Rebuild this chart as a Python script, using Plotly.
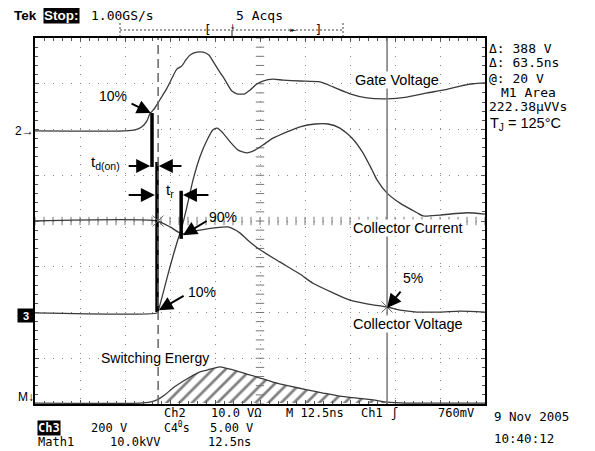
import numpy as np
import plotly.graph_objects as go

# ---------------- data (time in ns, amplitude in screen divisions) ----------------
gate_t = [0, 25, 27.8, 29.7, 31.1, 31.9, 33.3, 34.7, 36.7, 38.1, 39.4, 40.8, 41.9, 43.1, 45.0, 46.7,
          48.3, 49.4, 50.8, 52.8, 54.7, 56.1, 58.3, 59.7, 61.7, 63.3, 66.1, 68.9, 73.6, 79.2, 82.8,
          87.5, 92.2, 97.8, 103.3, 108.9, 113.3, 118.1, 121.7, 125]
gate_v = [1.97, 1.97, 1.99, 2.06, 2.19, 2.34, 2.47, 2.65, 2.91, 3.13, 3.32, 3.39, 3.52, 3.63, 3.69, 3.69,
          3.63, 3.50, 3.32, 3.08, 2.84, 2.78, 2.78, 2.86, 3.00, 3.06, 3.10, 3.08, 3.06, 3.04, 2.93,
          2.78, 2.69, 2.67, 2.71, 2.80, 2.86, 2.95, 3.00, 3.02]

ic_t = [0, 33.9, 34.2, 35.6, 37.5, 39.4, 40.8, 42.2, 43.9, 45.8, 47.8, 49.4, 50.6, 51.9, 54.2, 56.4,
        58.9, 61.1, 63.3, 66.1, 70.0, 73.6, 77.8, 81.4, 84.7, 88.1, 91.1, 93.6, 95.0, 97.8, 101.4,
        106.1, 107.8, 112.5, 120.0, 125]
ic_v = [-2.01, -2.01, -1.97, -1.57, -1.00, -0.48, -0.13, 0.31, 0.90, 1.40, 1.77, 1.99, 2.03, 1.95, 1.73, 1.55,
        1.49, 1.55, 1.66, 1.81, 1.95, 2.06, 2.12, 2.12, 2.03, 1.81, 1.49, 1.12, 0.90, 0.61, 0.39,
        0.18, 0.11, 0.13, 0.18, 0.15]

vce_t = [0, 33.9, 37.5, 40.8, 43.1, 45.8, 50.0, 53.6, 56.9, 59.7, 62.5, 68.1, 73.6, 77.2, 82.8, 87.5,
         92.2, 97.8, 101.4, 106.1, 112.5, 118.1, 125]
vce_v = [0.0, 0.0, -0.13, -0.28, -0.24, -0.20, -0.15, -0.13, -0.26, -0.46, -0.63, -0.90, -1.16, -1.36,
         -1.57, -1.73, -1.81, -1.88, -1.95, -1.99, -1.99, -1.97, -1.99]

esw_t = [0, 29.2, 31.9, 33.9, 36.1, 38.3, 40.8, 43.1, 45.8, 47.8, 50.0, 51.4, 54.2, 56.9, 61.7, 66.1,
         70.8, 75.6, 80.0, 84.7, 89.4, 93.9, 97.8, 103.3, 112.5, 125]
esw_v = [-3.98, -3.98, -3.96, -3.91, -3.80, -3.65, -3.52, -3.41, -3.30, -3.26, -3.21, -3.19, -3.24, -3.30,
         -3.41, -3.52, -3.61, -3.69, -3.76, -3.83, -3.87, -3.91, -3.96, -3.98, -3.98, -3.98]

cursor_a = 34.2   # dashed cursor (ns)
cursor_b = 97.8   # solid cursor (ns)

# measurement bars (ns, lower div, upper div)
bar_t = [32.5, 33.9, 40.6]
bar_lo = [1.18, -1.99, -0.39]
bar_hi = [2.36, 1.29, 0.66]

# cursor cross points
xmark_t = [34.2, 97.8]
xmark_v = [0.0, -1.88]

# arrows: tail_t, tail_v, head_t, head_v
arrows = [
    (26.4, 2.58, 32.2, 2.36),
    (25.6, 1.20, 32.0, 1.20),
    (41.1, 1.20, 34.4, 1.20),
    (25.6, 0.57, 33.3, 0.57),
    (48.6, 0.57, 41.1, 0.57),
    (48.1, 0.02, 41.1, -0.31),
    (41.7, -1.62, 34.4, -1.95),
    (101.9, -1.51, 97.8, -1.90),
]

# ---------------- figure ----------------
LINE = "#3a3a3a"
fig = go.Figure()

# hatched switching energy area between the cursors
seg_t = [cursor_a] + [t for t in esw_t if cursor_a < t < cursor_b] + [cursor_b]
seg_v = list(np.interp(seg_t, esw_t, esw_v))
base = esw_v[0]
fig.add_trace(go.Scatter(x=seg_t, y=[base] * len(seg_t), mode="lines",
                         line=dict(width=0), hoverinfo="skip"))
fig.add_trace(go.Scatter(x=seg_t, y=seg_v, mode="lines", line=dict(width=0), fill="tonexty",
                         fillcolor="white",
                         fillpattern=dict(shape="/", size=9, solidity=0.3, fgcolor="black", bgcolor="white"),
                         hoverinfo="skip"))

# center crosshair ticks
ct = np.arange(0, 125.01, 2.5)
cy = np.arange(-4, 4.01, 0.2)
fig.add_trace(go.Scatter(x=ct, y=[0] * len(ct), mode="markers",
                         marker=dict(symbol="line-ns", size=6, line=dict(color="#777", width=1)),
                         hoverinfo="skip"))
fig.add_trace(go.Scatter(x=[62.5] * len(cy), y=cy, mode="markers",
                         marker=dict(symbol="line-ew", size=6, line=dict(color="#777", width=1)),
                         hoverinfo="skip"))

# cursors
fig.add_shape(type="line", xref="x", yref="y", x0=cursor_a, x1=cursor_a, y0=-4, y1=4,
              line=dict(color="#666", width=1.5, dash="9px,5px"))
fig.add_shape(type="line", xref="x", yref="y", x0=cursor_b, x1=cursor_b, y0=-4, y1=4,
              line=dict(color="#777", width=1.5))

# waveforms
for tx, vy in [(gate_t, gate_v), (ic_t, ic_v), (vce_t, vce_v), (esw_t, esw_v)]:
    fig.add_trace(go.Scatter(x=tx, y=vy, mode="lines",
                             line=dict(color=LINE, width=1.3, shape="spline", smoothing=0.6),
                             hoverinfo="skip"))

# thick measurement bars
bx, by = [], []
for t, lo, hi in zip(bar_t, bar_lo, bar_hi):
    bx += [t, t, None]
    by += [lo, hi, None]
fig.add_trace(go.Scatter(x=bx, y=by, mode="lines", line=dict(color="black", width=3.5), hoverinfo="skip"))

fig.add_trace(go.Scatter(x=xmark_t, y=xmark_v, mode="markers",
                         marker=dict(symbol="x-thin", size=11, line=dict(color="#666", width=1)),
                         hoverinfo="skip"))

ann = []
for tt, tv, ht, hv in arrows:
    ann.append(dict(x=ht, y=hv, ax=tt, ay=tv, xref="x", yref="y", axref="x", ayref="y", text="",
                    showarrow=True, arrowhead=2, arrowsize=1.4, arrowwidth=2, arrowcolor="black", standoff=0))

SANS = "Liberation Sans, Arial, sans-serif"
MONO = "DejaVu Sans Mono, monospace"

def lab(text, t, v, size=14.5, bg="white"):
    ann.append(dict(x=t, y=v, xref="x", yref="y", text=text, showarrow=False,
                    font=dict(family=SANS, size=size, color="black"), bgcolor=bg, borderpad=0))

lab("Gate Voltage", 100.6, 3.08)
lab("Collector Current", 103.6, -0.15)
lab("Collector Voltage", 103.6, -2.26)
lab("Switching Energy", 33.3, -3.0, size=14)
lab("10%", 21.7, 2.73, size=14, bg=None)
lab("t<sub>d(on)</sub>", 19.7, 1.27, size=15, bg=None)
lab("t<sub>r</sub>", 37.6, 0.66, size=15, bg=None)
lab("90%", 52.2, 0.09, size=14, bg=None)
lab("10%", 46.4, -1.55, size=14, bg=None)
lab("5%", 105.0, -1.25, size=14, bg=None)

# pixel (screenshot) -> paper helper for the screen furniture
def P(px, py):
    return (px - 35) / 450, (404 - py) / 366

def txt(text, px, py, size=12, family=MONO, anchor="left", color="black", bg=None, bold=False):
    x, y = P(px, py)
    if bold:
        text = "<b>" + text + "</b>"
    ann.append(dict(x=x, y=y, xref="paper", yref="paper", text=text, showarrow=False,
                    xanchor=anchor, yanchor="middle", font=dict(family=family, size=size, color=color),
                    bgcolor=bg, borderpad=0))

txt("Tek", 13, 16, size=13.5, family=SANS, bold=True)
txt("Stop:", 43, 16, size=13.5, family=SANS, bold=True, color="white", bg="black")
txt("1.00GS/s", 90, 16, size=13)
txt("5 Acqs", 235, 16, size=13)
txt("[", 203, 30, size=12)
txt("]", 314, 30, size=12)
txt("↓", 232, 26, size=9, anchor="center")
txt("⇤", 293, 30, size=10, anchor="center")

txt("Δ: 388 V", 488, 48, size=13)
txt("Δ: 63.5ns", 488, 63, size=13)
txt("@: 20 V", 488, 78, size=13)
txt("M1 Area", 500, 92, size=13)
txt("222.38µVVs", 488, 106, size=13)
txt("T<sub>J</sub> = 125°C", 489, 124, size=14.5, family=SANS)

txt("2→", 35, 131, size=12, family=SANS, anchor="right")
ann.append(dict(x=0, y=P(0, 315)[1], xref="paper", yref="paper", text="<b>3</b>", showarrow=False,
                xanchor="right", yanchor="middle", width=16, height=13, bgcolor="black",
                font=dict(family=SANS, size=11, color="white"), borderpad=0))
txt("M↓", 35, 397, size=12, family=SANS, anchor="right")

R1, R2, R3 = 413, 427.5, 442
txt("Ch2", 163, R1)
txt("10.0 VΩ", 210, R1)
txt("M 12.5ns", 285, R1)
txt("Ch1", 360, R1)
txt("ʃ", 390, R1)
txt("760mV", 437, R1)
txt("9 Nov 2005", 493, 416, size=12.5)
txt("Ch3", 37, R2, color="white", bg="black", bold=True)
txt("200 V", 90, R2)
txt("C4<sup>0</sup>s", 163, R2, size=11.5)
txt("5.00 V", 209, R2)
txt("Math1", 37, R3)
txt("10.0kVV", 109, R3)
txt("12.5ns", 207, R3)
txt("10:40:12", 493, 438, size=12.5)

# trigger position bar at the top
def pline(x0, y0, x1, y1, dash=None, width=1, color="#444"):
    a = P(x0, y0); b = P(x1, y1)
    fig.add_shape(type="line", xref="paper", yref="paper", x0=a[0], y0=a[1], x1=b[0], y1=b[1],
                  line=dict(color=color, width=width, dash=dash))
pline(120, 30, 343, 30, dash="2px,2px")
pline(120, 23, 120, 36, dash="2px,2px")
pline(343, 23, 343, 36, dash="2px,2px")
pline(232, 30, 232, 36, width=1.2)

axis_common = dict(showline=True, linecolor="black", linewidth=1.5, mirror="ticks",
                   ticks="inside", ticklen=4, tickcolor="#555", showticklabels=False,
                   showgrid=True, gridcolor="#888", gridwidth=1, griddash="1px,8px", zeroline=False)
fig.update_xaxes(range=[0, 125], dtick=12.5, tick0=0,
                 minor=dict(ticks="inside", ticklen=3, dtick=2.5, tick0=0, tickcolor="#555", showgrid=False),
                 **axis_common)
fig.update_yaxes(range=[-4, 4], dtick=1, tick0=0,
                 minor=dict(ticks="inside", ticklen=3, dtick=0.2, tick0=0, tickcolor="#555", showgrid=False),
                 **axis_common)

# the page body adds an 8 px offset, so the figure is 8 px smaller and shifted
fig.update_layout(width=587, height=443, margin=dict(l=27, r=110, t=30, b=47),
                  plot_bgcolor="white", paper_bgcolor="white", showlegend=False,
                  annotations=ann)

fig.write_html("out.html")
